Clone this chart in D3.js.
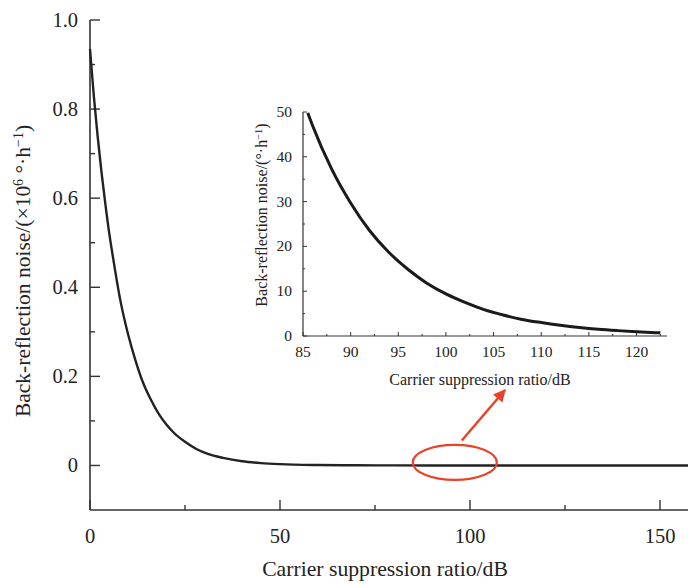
<!DOCTYPE html>
<html>
<head>
<meta charset="utf-8">
<script src="https://cdn.jsdelivr.net/npm/d3@7"></script>
<style>
    body { margin: 0; background: #fff; }
    svg { display: block; font-family: "Liberation Serif", "DejaVu Serif", serif; }
    .axis path, .axis line { stroke: #333; }
    .axis text { fill: #222; }
</style>
</head>
<body>
<script>
//main curve values (noise in 10^6 deg/h)
var mainCsr = [0, 1, 2, 3, 4, 5, 6, 8, 10, 12, 14, 16, 18, 20, 22, 25, 28, 31, 35, 40, 45, 50, 60, 70, 80, 100, 130, 160];
var mainNoise = [0.935, 0.83, 0.74, 0.66, 0.59, 0.525, 0.47, 0.37, 0.295, 0.235, 0.185, 0.148, 0.117, 0.093, 0.074, 0.053, 0.037, 0.026, 0.017, 0.0094, 0.0053, 0.003, 0.001, 0.0003, 0.0001, 0, 0, 0];

//inset curve values (deg/h)
var insetCsr = [85.5, 86, 88, 90, 92, 94, 96, 98, 100, 102, 104, 106, 108, 110, 112, 114, 116, 118, 120, 122.5];
var insetNoise = [49.8, 47, 37.3, 29.7, 23.5, 18.7, 14.9, 11.8, 9.4, 7.5, 5.9, 4.7, 3.7, 3.0, 2.4, 1.9, 1.5, 1.2, 0.95, 0.7];

//tick values
var mainXTicks = [0, 50, 100, 150];
var mainYTicks = [0, 0.2, 0.4, 0.6, 0.8, 1.0];
var insetXTicks = [85, 90, 95, 100, 105, 110, 115, 120];
var insetYTicks = [0, 10, 20, 30, 40, 50];

//marked region on the main curve
var markCsr = 96;

(function(){
    var width = 688, height = 584;

    var svg = d3.select("body").append("svg")
        .attr("width", width)
        .attr("height", height);

    //main scales
    var x = d3.scaleLinear().domain([0, 160]).range([90, 698]);
    var y = d3.scaleLinear().domain([-0.1, 1.0]).range([510, 20]);

    //main x axis
    var gx = svg.append("g").attr("class", "axis")
        .attr("transform", "translate(0,510)");
    gx.append("line").attr("x1", 90).attr("x2", width).attr("stroke-width", 1.6);
    gx.selectAll(".major").data(mainXTicks).enter().append("line")
        .attr("x1", x).attr("x2", x).attr("y1", 0).attr("y2", -10).attr("stroke-width", 1.4);
    gx.selectAll(".minor").data([25, 75, 125]).enter().append("line")
        .attr("x1", x).attr("x2", x).attr("y1", 0).attr("y2", -5).attr("stroke-width", 1.4);
    gx.selectAll("text").data(mainXTicks).enter().append("text")
        .attr("x", x).attr("y", 33)
        .attr("text-anchor", "middle")
        .attr("font-size", 20.5)
        .text(function(d){ return d; });

    //main y axis
    var gy = svg.append("g").attr("class", "axis")
        .attr("transform", "translate(90,0)");
    gy.append("line").attr("y1", 20).attr("y2", 510).attr("stroke-width", 1.6);
    gy.selectAll(".major").data(mainYTicks).enter().append("line")
        .attr("y1", y).attr("y2", y).attr("x1", 0).attr("x2", 10).attr("stroke-width", 1.4);
    gy.selectAll(".minor").data([0.1, 0.3, 0.5, 0.7, 0.9]).enter().append("line")
        .attr("y1", y).attr("y2", y).attr("x1", 0).attr("x2", 5).attr("stroke-width", 1.4);
    gy.selectAll("text").data(mainYTicks).enter().append("text")
        .attr("x", -12).attr("y", function(d){ return y(d) + 7; })
        .attr("text-anchor", "end")
        .attr("font-size", 20.5)
        .text(function(d){ return d === 0 ? "0" : d3.format(".1f")(d); });

    //axis titles
    svg.append("text")
        .attr("x", 385).attr("y", 576)
        .attr("text-anchor", "middle")
        .attr("font-size", 21.7).attr("fill", "#222")
        .text("Carrier suppression ratio/dB");

    var yt = svg.append("text")
        .attr("transform", "translate(30,271) rotate(-90)")
        .attr("text-anchor", "middle")
        .attr("font-size", 21.5).attr("fill", "#222");
    yt.append("tspan").text("Back-reflection noise/(\u00d710");
    yt.append("tspan").attr("baseline-shift", "super").attr("font-size", 14).text("6");
    yt.append("tspan").text(" \u00b0\u00b7h");
    yt.append("tspan").attr("baseline-shift", "super").attr("font-size", 14).text("\u22121");
    yt.append("tspan").text(")");

    //main curve
    var line = d3.line()
        .x(function(d){ return x(d[0]); })
        .y(function(d){ return y(d[1]); })
        .curve(d3.curveMonotoneX);
    svg.append("path")
        .datum(d3.zip(mainCsr, mainNoise))
        .attr("d", line)
        .attr("fill", "none")
        .attr("stroke", "#222")
        .attr("stroke-width", 2.4);

    //inset scales
    var xi = d3.scaleLinear().domain([85, 123.2]).range([303, 667]);
    var yi = d3.scaleLinear().domain([0, 50]).range([336, 112]);

    var ix = svg.append("g").attr("class", "axis")
        .attr("transform", "translate(0,336)");
    ix.append("line").attr("x1", 303).attr("x2", 667).attr("stroke-width", 1.2);
    ix.selectAll(".major").data(insetXTicks).enter().append("line")
        .attr("x1", xi).attr("x2", xi).attr("y1", 0).attr("y2", -4);
    ix.selectAll(".minor").data(d3.range(87.5, 123, 5)).enter().append("line")
        .attr("x1", xi).attr("x2", xi).attr("y1", 0).attr("y2", -2);
    ix.selectAll("text").data(insetXTicks).enter().append("text")
        .attr("x", xi).attr("y", 21)
        .attr("text-anchor", "middle")
        .attr("font-size", 15.5)
        .text(function(d){ return d; });

    var iy = svg.append("g").attr("class", "axis")
        .attr("transform", "translate(303,0)");
    iy.append("line").attr("y1", 112).attr("y2", 336).attr("stroke-width", 1.2);
    iy.selectAll(".major").data(insetYTicks).enter().append("line")
        .attr("y1", yi).attr("y2", yi).attr("x1", 0).attr("x2", 4);
    iy.selectAll(".minor").data([5, 15, 25, 35, 45]).enter().append("line")
        .attr("y1", yi).attr("y2", yi).attr("x1", 0).attr("x2", 2);
    iy.selectAll("text").data(insetYTicks).enter().append("text")
        .attr("x", -11).attr("y", function(d){ return yi(d) + 5; })
        .attr("text-anchor", "end")
        .attr("font-size", 15.5)
        .text(function(d){ return d; });

    svg.append("text")
        .attr("x", 480).attr("y", 385)
        .attr("text-anchor", "middle")
        .attr("font-size", 16).attr("fill", "#222")
        .text("Carrier suppression ratio/dB");

    var it = svg.append("text")
        .attr("transform", "translate(267,215) rotate(-90)")
        .attr("text-anchor", "middle")
        .attr("font-size", 16).attr("fill", "#222");
    it.append("tspan").text("Back-reflection noise/(\u00b0\u00b7h");
    it.append("tspan").attr("baseline-shift", "super").attr("font-size", 10.5).text("\u22121");
    it.append("tspan").text(")");

    var iline = d3.line()
        .x(function(d){ return xi(d[0]); })
        .y(function(d){ return yi(d[1]); })
        .curve(d3.curveMonotoneX);
    svg.append("path")
        .datum(d3.zip(insetCsr, insetNoise))
        .attr("d", iline)
        .attr("fill", "none")
        .attr("stroke", "#1a1a1a")
        .attr("stroke-width", 3);

    //red ellipse and arrow
    var red = "#e8432a";
    svg.append("ellipse")
        .attr("cx", x(markCsr)).attr("cy", y(0) - 3)
        .attr("rx", 42).attr("ry", 17.5)
        .attr("fill", "none")
        .attr("stroke", red)
        .attr("stroke-width", 2.2);

    svg.append("defs").append("marker")
        .attr("id", "head")
        .attr("viewBox", "0 0 10 10")
        .attr("refX", 9).attr("refY", 5)
        .attr("markerWidth", 5).attr("markerHeight", 5)
        .attr("markerUnits", "strokeWidth")
        .attr("orient", "auto")
        .append("path")
        .attr("d", "M0,0L10,5L0,10z")
        .attr("fill", red);

    svg.append("line")
        .attr("x1", x(markCsr) + 7).attr("y1", y(0) - 25)
        .attr("x2", 505).attr("y2", 390)
        .attr("stroke", red)
        .attr("stroke-width", 2.5)
        .attr("marker-end", "url(#head)");
})();
</script>
</body>
</html>
